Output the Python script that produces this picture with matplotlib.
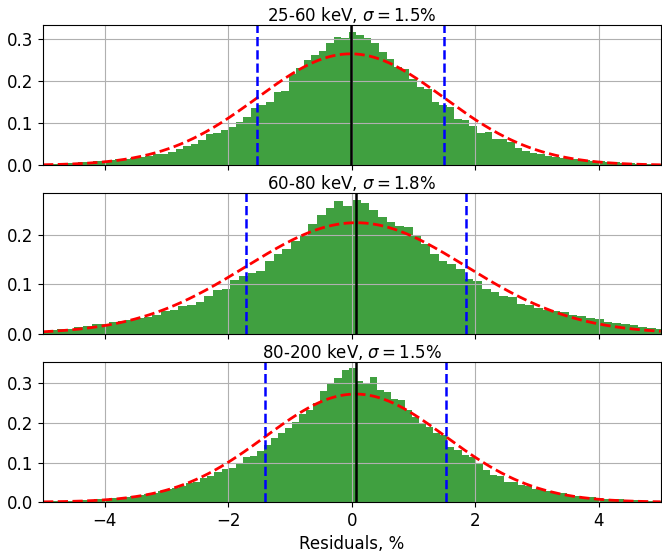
import numpy as np
import matplotlib
matplotlib.use("Agg")
import matplotlib.pyplot as plt

# Energy bands
band_labels = ["25-60 keV", "60-80 keV", "80-200 keV"]

# Fit results per band (mean and width of residuals, %)
fit_means = [-0.02, 0.07, 0.06]
fit_sigmas = [1.51, 1.78, 1.46]

# Histogram binning per band: first edge and bin width
bin_starts = [-5.05, -5.058, -5.082]
bin_widths = [0.122, 0.1405, 0.1143]

# Normalised counts per bin
density_low = [
    0.003, 0.004, 0.004, 0.005, 0.006, 0.007, 0.008, 0.010, 0.010, 0.012,
    0.014, 0.015, 0.017, 0.020, 0.023,
    0.026, 0.027, 0.032, 0.038, 0.045, 0.050, 0.060, 0.074, 0.076, 0.084,
    0.090, 0.102, 0.114, 0.135, 0.142, 0.150, 0.173, 0.177, 0.217, 0.231,
    0.249, 0.261, 0.270, 0.289, 0.305, 0.302, 0.317, 0.309, 0.301, 0.289,
    0.269, 0.253, 0.233, 0.229, 0.205, 0.185, 0.181, 0.150, 0.142, 0.138,
    0.110, 0.108, 0.094, 0.076, 0.080, 0.062, 0.062, 0.054, 0.042, 0.034,
    0.029, 0.026,
    0.022, 0.020, 0.018, 0.016, 0.014, 0.012, 0.011, 0.009, 0.008, 0.007,
    0.006, 0.005, 0.004, 0.004, 0.003, 0.003,
]

density_mid = [
    0.006, 0.007, 0.009, 0.010, 0.013, 0.015, 0.019, 0.020, 0.024, 0.025,
    0.027, 0.032, 0.034, 0.037, 0.045, 0.048, 0.055, 0.057, 0.064, 0.077,
    0.089, 0.090, 0.108,
    0.117, 0.123, 0.126, 0.146, 0.161, 0.171, 0.187, 0.197, 0.221, 0.240,
    0.254, 0.267, 0.257,
    0.270, 0.264, 0.249, 0.235, 0.226, 0.218, 0.215, 0.200, 0.182, 0.161,
    0.146, 0.140, 0.130, 0.111, 0.106, 0.091, 0.084, 0.076, 0.074, 0.059,
    0.058, 0.052, 0.047,
    0.045, 0.043, 0.038, 0.036, 0.031, 0.029, 0.024, 0.021, 0.019, 0.017,
    0.014, 0.012, 0.010,
]

density_high = [
    0.002, 0.003, 0.003, 0.004, 0.004, 0.005, 0.006, 0.006, 0.008, 0.009,
    0.010, 0.011, 0.013, 0.015, 0.018, 0.021,
    0.024, 0.029, 0.033, 0.035, 0.041, 0.048, 0.050, 0.061, 0.065, 0.077,
    0.083, 0.086, 0.100, 0.113, 0.117, 0.130, 0.145, 0.161, 0.176, 0.187,
    0.203, 0.224, 0.234, 0.250, 0.282, 0.298, 0.313, 0.334, 0.338,
    0.306, 0.302, 0.317, 0.283, 0.279, 0.261, 0.258, 0.234, 0.216, 0.199,
    0.191, 0.174, 0.170, 0.139, 0.132, 0.119, 0.113, 0.097, 0.082, 0.069,
    0.065, 0.052, 0.052, 0.044, 0.041, 0.033, 0.031,
    0.027, 0.024, 0.022, 0.019, 0.016, 0.014, 0.012, 0.010, 0.009, 0.008,
    0.007, 0.006, 0.005, 0.004, 0.004, 0.003, 0.003,
]

densities = [density_low, density_mid, density_high]

x_ticks = [-4, -2, 0, 2, 4]

fig, axes = plt.subplots(3, 1, figsize=(6.62, 5.53), dpi=100, sharex=True)
plt.subplots_adjust(left=0.065, right=0.998, bottom=0.092, top=0.955, hspace=0.2)

x_fine = np.linspace(-5, 5, 400)

for ax, label, mu, sigma, start, width, dens in zip(
        axes, band_labels, fit_means, fit_sigmas, bin_starts, bin_widths, densities):
    edges = start + width * np.arange(len(dens))
    ax.bar(edges, dens, width=width, align='edge', color='g', alpha=0.75, linewidth=0)

    # Gaussian with the fitted width
    pdf = np.exp(-0.5 * ((x_fine - mu) / sigma) ** 2) / (sigma * np.sqrt(2 * np.pi))
    ax.plot(x_fine, pdf, 'r--', linewidth=2)

    ax.axvline(mu, color='black', linewidth=1.8)
    ax.axvline(mu - sigma, color='blue', linestyle='--', linewidth=1.8)
    ax.axvline(mu + sigma, color='blue', linestyle='--', linewidth=1.8)

    ax.set_title(f"{label}, $\\sigma = {sigma:.1f}$%", fontsize=12, pad=3)
    ax.grid(True)
    ax.set_xlim(-5, 5)
    ax.tick_params(labelsize=12)

axes[-1].set_xticks(x_ticks)
axes[-1].set_xlabel("Residuals, %", fontsize=12)

fig.savefig("out.png", dpi=100)
